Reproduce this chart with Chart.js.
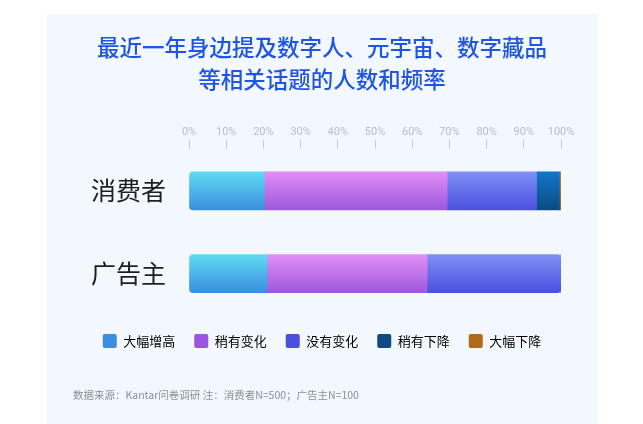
<!DOCTYPE html>
<html>
<head>
<meta charset="utf-8">
<script src="https://cdn.jsdelivr.net/npm/chart.js@4"></script>
<style>
  html, body { margin: 0; padding: 0; background: #fff; }
  body { width: 643px; height: 424px; position: relative; overflow: hidden; }
  #panel { position: absolute; left: 47px; top: 14px; width: 551px; height: 410px; background: #f3f7fe; }
  #panel canvas { display: block; }
  #source { position: absolute; left: 26px; top: 373px; font: 10.5px "Noto Sans CJK SC", sans-serif; color: #8a8f99; white-space: nowrap; }
</style>
</head>
<body>
<div id="panel">
  <canvas id="chart-stack" width="551" height="410"></canvas>
  <div id="source">数据来源：Kantar问卷调研 注：消费者N=500；广告主N=100</div>
</div>
<script>
const categories = ["消费者", "广告主"];
const seriesNames = ["大幅增高", "稍有变化", "没有变化", "稍有下降", "大幅下降"];
const bigUp = [20.2, 21];
const smallChange = [49.2, 43];
const noChange = [24, 36];
const smallDown = [6.2, 0];
const bigDown = [0.4, 0];
const tickLabels = ["0%", "10%", "20%", "30%", "40%", "50%", "60%", "70%", "80%", "90%", "100%"];

// top / bottom colours of each bar gradient, plus the flat legend colour
const topColors = ["#5fdcf2", "#e28ef6", "#7f90f4", "#1276cc", "#c27a22"];
const bottomColors = ["#3a8ee0", "#9d58dd", "#4b4fe0", "#0c4a82", "#a86414"];
const legendColors = ["#3a8ee0", "#9b55e0", "#4a4fe0", "#0d4a80", "#b06a18"];

const seriesData = [bigUp, smallChange, noChange, smallDown, bigDown];
const BAR_H = 38;

function barFill(i) {
  return (c) => {
    const chart = c.chart;
    const y = chart.scales && chart.scales.y;
    if (!chart.chartArea || !y || c.dataIndex === undefined) return legendColors[i];
    const mid = y.getPixelForValue(c.dataIndex);
    const g = chart.ctx.createLinearGradient(0, mid - BAR_H / 2, 0, mid + BAR_H / 2);
    g.addColorStop(0, topColors[i]);
    g.addColorStop(1, bottomColors[i]);
    return g;
  };
}

function corners(i) {
  return (c) => {
    const row = c.dataIndex;
    if (row === undefined) return 0;
    let last = 0;
    seriesData.forEach((d, k) => { if (d[row] > 0) last = k; });
    return {
      topLeft: i === 0 ? 4 : 0,
      bottomLeft: i === 0 ? 4 : 0,
      topRight: i === last ? 4 : 0,
      bottomRight: i === last ? 4 : 0,
    };
  };
}

const ctx = document.getElementById("chart-stack").getContext("2d");
new Chart(ctx, {
  type: "bar",
  data: {
    labels: categories,
    datasets: seriesNames.map((name, i) => ({
      label: name,
      data: seriesData[i],
      backgroundColor: barFill(i),
      borderRadius: corners(i),
      borderSkipped: false,
      barThickness: BAR_H,
    })),
  },
  options: {
    indexAxis: "y",
    responsive: false,
    animation: false,
    layout: { padding: { left: 36, right: 37, top: 0, bottom: 66 } },
    scales: {
      x: {
        position: "top",
        stacked: true,
        min: 0,
        max: 100,
        border: { display: false },
        grid: { drawOnChartArea: false, tickLength: 10, color: "#c8ccd4", tickWidth: 1 },
        ticks: {
          stepSize: 10,
          color: "#b8bcc4",
          padding: 1,
          font: { family: "Roboto, 'Noto Sans CJK SC'", size: 11 },
          callback: (v, idx) => tickLabels[idx],
        },
      },
      y: {
        stacked: true,
        border: { display: false },
        grid: { display: false, drawTicks: false },
        ticks: {
          color: "#1e1e1e",
          padding: 23,
          font: { family: "'Noto Sans CJK SC'", size: 25 },
        },
        afterFit: (s) => { s.width = 106; },
      },
    },
    plugins: {
      title: {
        display: true,
        text: ["最近一年身边提及数字人、元宇宙、数字藏品", "等相关话题的人数和频率"],
        color: "#1f55e6",
        font: { family: "'Noto Sans CJK SC'", size: 22.5, weight: "500", lineHeight: 1.45 },
        padding: { top: 17, bottom: 28 },
      },
      legend: {
        position: "bottom",
        labels: {
          boxWidth: 14,
          boxHeight: 14,
          padding: 19,
          useBorderRadius: true,
          borderRadius: 2,
          color: "#444",
          font: { family: "'Noto Sans CJK SC'", size: 13 },
          generateLabels: () => seriesNames.map((name, i) => ({
            text: name,
            fillStyle: legendColors[i],
            strokeStyle: legendColors[i],
            lineWidth: 0,
            borderRadius: 2,
            datasetIndex: i,
          })),
        },
      },
      tooltip: { enabled: false },
    },
  },
});
</script>
</body>
</html>
